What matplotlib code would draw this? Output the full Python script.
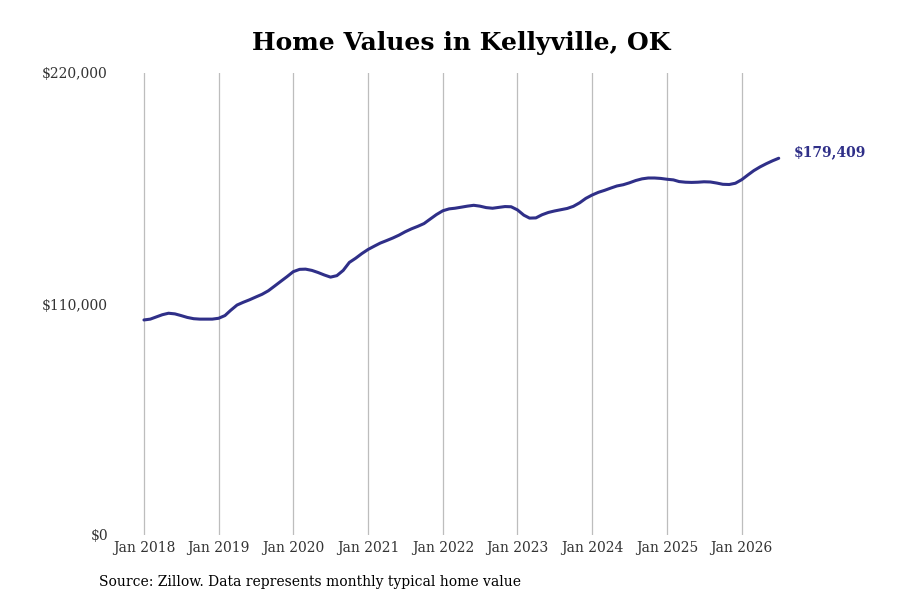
import matplotlib
matplotlib.use("Agg")
import matplotlib.pyplot as plt
import pandas as pd

# --- datos: valor típico mensual (miles de $), ene 2018 - jul 2026 ---
start_month = "2018-01-01"
values_k = [
    102.4, 102.8, 103.8, 104.9, 105.6, 105.3, 104.5, 103.6, 103.0, 102.8, 102.8, 102.8,  # 2018
    103.2, 104.5, 107.0, 109.5, 110.8, 112.0, 113.3, 114.6, 116.3, 118.5, 120.8, 123.0,  # 2019
    125.4, 126.5, 126.6, 126.0, 125.0, 123.8, 122.8, 123.5, 126.0, 129.8, 131.8, 134.0,  # 2020
    136.0, 137.6, 139.0, 140.2, 141.4, 142.8, 144.4, 145.8, 147.0, 148.3, 150.5, 152.6,  # 2021
    154.4, 155.3, 155.6, 156.1, 156.6, 157.0, 156.6, 155.9, 155.6, 156.0, 156.4, 156.3,  # 2022
    154.8, 152.3, 150.9, 151.0, 152.5, 153.6, 154.3, 154.9, 155.5, 156.5, 158.2, 160.3,  # 2023
    161.9, 163.2, 164.1, 165.2, 166.2, 166.8, 167.7, 168.8, 169.6, 170.0, 170.0, 169.8,  # 2024
    169.4, 169.1, 168.3, 168.0, 167.9, 168.0, 168.2, 168.1, 167.6, 167.0, 166.9, 167.5,  # 2025
    169.2, 171.5, 173.5, 175.3, 176.8, 178.2, 179.409,                                   # 2026
]
tick_years = [2018, 2019, 2020, 2021, 2022, 2023, 2024, 2025, 2026]
y_ticks = [0, 110000, 220000]
y_labels = ["$0", "$110,000", "$220,000"]
last_label = "$179,409"

line_color = "#2f2f88"
serif = ["DejaVu Serif"]

dates = pd.date_range(start_month, periods=len(values_k), freq="MS")
values = [v * 1000 for v in values_k]

fig = plt.figure(figsize=(9, 6), dpi=100)
ax = fig.add_axes([119 / 900, 65 / 600, (791 - 119) / 900, (535 - 73) / 600])

# líneas verticales en cada enero
tick_dates = [pd.Timestamp(f"{y}-01-01") for y in tick_years]
for d in tick_dates:
    ax.axvline(d, color="#bdbdbd", linewidth=0.9, zorder=1)

ax.plot(dates, values, color=line_color, linewidth=2.2, zorder=3,
        solid_capstyle="round")

ax.set_ylim(0, 220000)
ax.set_xlim(pd.Timestamp("2017-09-01"), pd.Timestamp("2026-08-30"))
ax.set_yticks(y_ticks)
ax.set_yticklabels(y_labels, family=serif, fontsize=10, color="#333333")
ax.set_xticks(tick_dates)
ax.set_xticklabels([f"Jan {y}" for y in tick_years], family=serif,
                   fontsize=10, color="#333333")
ax.tick_params(axis="both", length=0)
ax.tick_params(axis="x", pad=4)
ax.tick_params(axis="y", pad=8)
for s in ax.spines.values():
    s.set_visible(False)

# etiqueta del último valor
ax.annotate(last_label, xy=(dates[-1], values[-1]), xytext=(11, 4),
            textcoords="offset points", ha="left", va="center",
            family=serif, fontsize=10, fontweight="bold", color=line_color,
            annotation_clip=False)

fig.text(461 / 900, 1 - 43 / 600, "Home Values in Kellyville, OK",
         ha="center", va="center", family=serif, fontsize=18,
         fontweight="bold", color="black")
fig.text(99 / 900, 1 - 582 / 600,
         "Source: Zillow. Data represents monthly typical home value",
         ha="left", va="center", family=serif, fontsize=10, color="black")

fig.savefig("out.png", dpi=100)
